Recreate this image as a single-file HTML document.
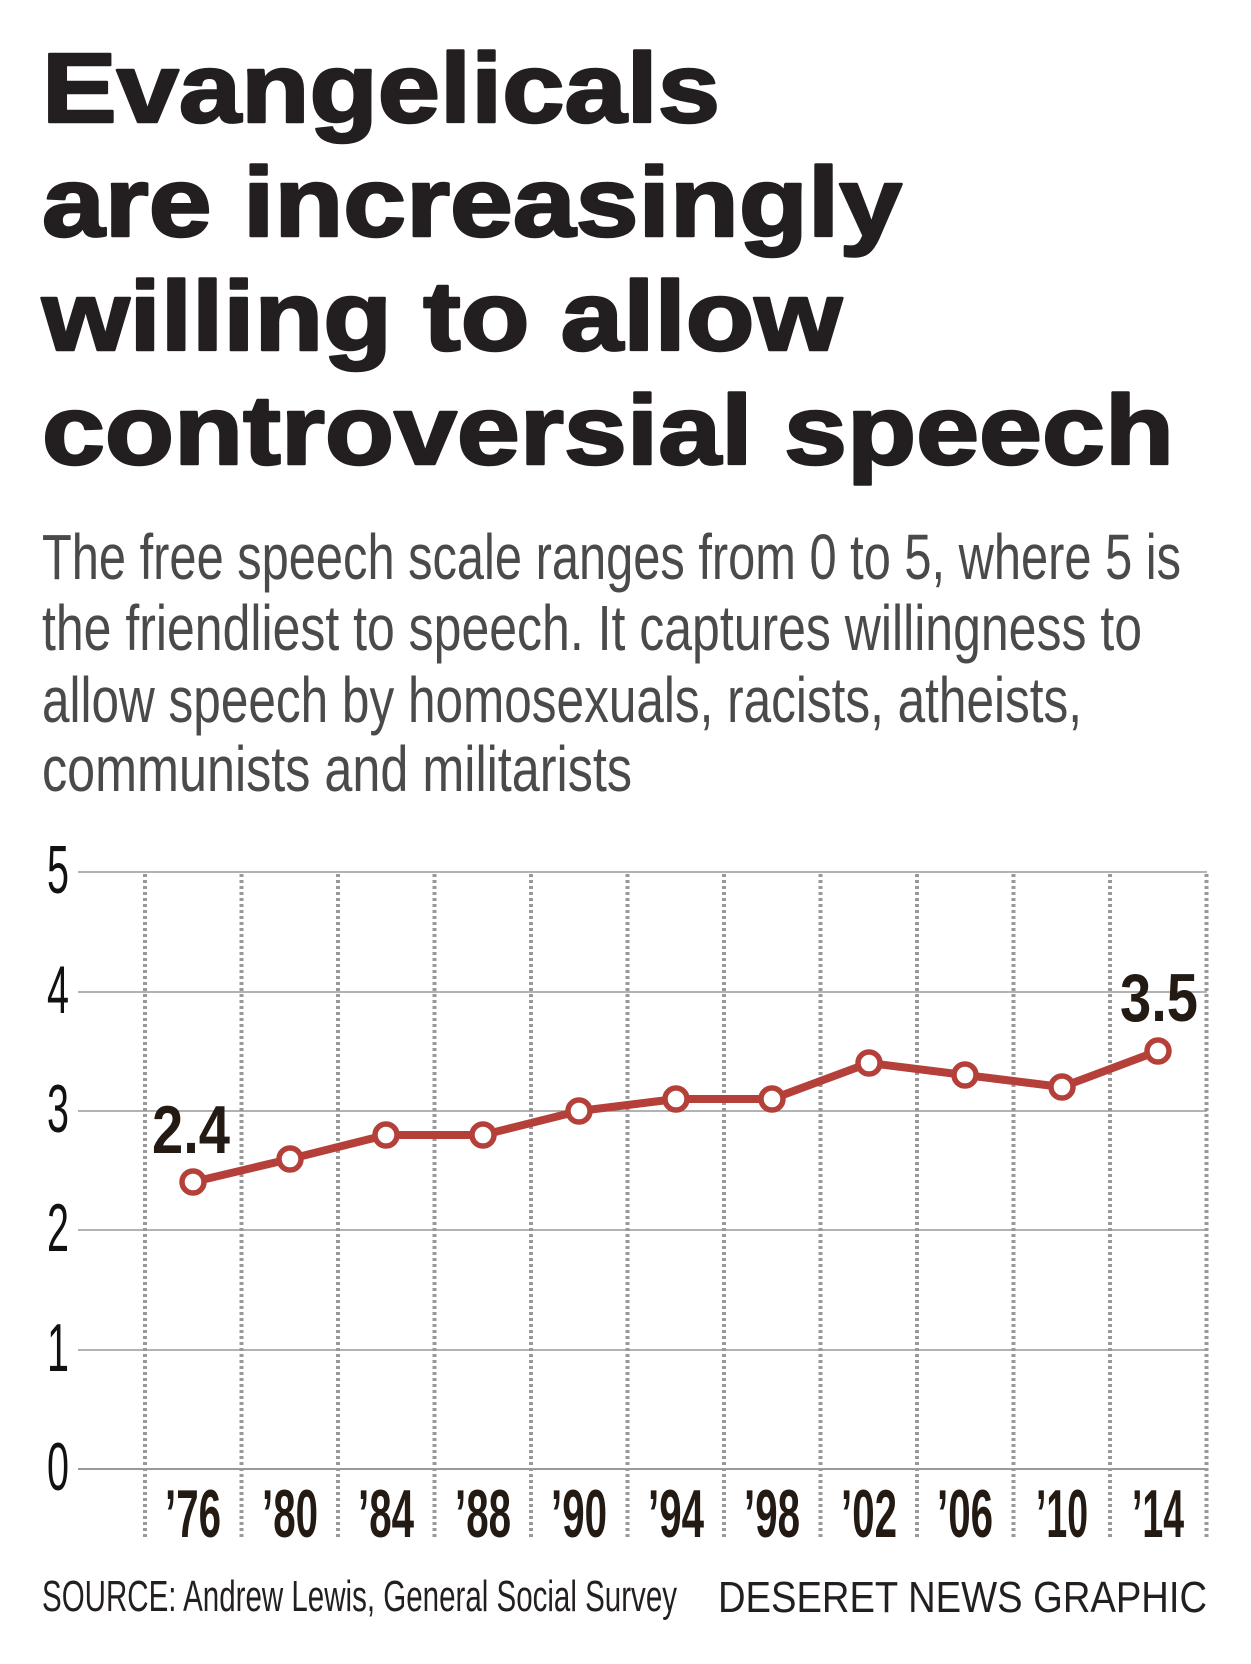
<!DOCTYPE html>
<html><head><meta charset="utf-8"><style>
html,body{margin:0;padding:0;background:#fff}
svg{display:block}
</style></head><body>
<svg width="1251" height="1664" viewBox="0 0 1251 1664" xmlns="http://www.w3.org/2000/svg">
<g font-family="Liberation Sans, sans-serif" fill="#231f20" stroke="#231f20" stroke-width="2.5" stroke-linejoin="round" font-weight="bold" font-size="98">
<text x="42" y="122" textLength="678" lengthAdjust="spacingAndGlyphs">Evangelicals</text>
<text x="42" y="236" textLength="860" lengthAdjust="spacingAndGlyphs">are increasingly</text>
<text x="42" y="350" textLength="800" lengthAdjust="spacingAndGlyphs">willing to allow</text>
<text x="42" y="464" textLength="1132" lengthAdjust="spacingAndGlyphs">controversial speech</text>
</g>
<g font-family="Liberation Sans, sans-serif" fill="#4a4a4a" font-size="64">
<text x="42" y="579" textLength="1139" lengthAdjust="spacingAndGlyphs">The free speech scale ranges from 0 to 5, where 5 is</text>
<text x="42" y="650" textLength="1100" lengthAdjust="spacingAndGlyphs">the friendliest to speech. It captures willingness to</text>
<text x="42" y="722" textLength="1040" lengthAdjust="spacingAndGlyphs">allow speech by homosexuals, racists, atheists,</text>
<text x="42" y="791" textLength="590" lengthAdjust="spacingAndGlyphs">communists and militarists</text>
</g>
<g stroke="#999" stroke-width="1.5">
<line x1="78" y1="872" x2="1207" y2="872"/>
<line x1="78" y1="992" x2="1207" y2="992"/>
<line x1="78" y1="1111" x2="1207" y2="1111"/>
<line x1="78" y1="1230" x2="1207" y2="1230"/>
<line x1="78" y1="1350" x2="1207" y2="1350"/>
<line x1="78" y1="1469" x2="1207" y2="1469" stroke-width="2"/>
</g>
<g stroke="#999" stroke-width="4" stroke-dasharray="3 3">
<line x1="145" y1="874" x2="145" y2="1538"/>
<line x1="241.5" y1="874" x2="241.5" y2="1538"/>
<line x1="338" y1="874" x2="338" y2="1538"/>
<line x1="434.5" y1="874" x2="434.5" y2="1538"/>
<line x1="531" y1="874" x2="531" y2="1538"/>
<line x1="627.5" y1="874" x2="627.5" y2="1538"/>
<line x1="724" y1="874" x2="724" y2="1538"/>
<line x1="820.5" y1="874" x2="820.5" y2="1538"/>
<line x1="917" y1="874" x2="917" y2="1538"/>
<line x1="1013.5" y1="874" x2="1013.5" y2="1538"/>
<line x1="1110" y1="874" x2="1110" y2="1538"/>
<line x1="1206.5" y1="874" x2="1206.5" y2="1538"/>
</g>
<g font-family="Liberation Sans, sans-serif" fill="#111" font-size="68" text-anchor="middle">
<text x="58" y="893" textLength="22" lengthAdjust="spacingAndGlyphs">5</text>
<text x="58" y="1013" textLength="22" lengthAdjust="spacingAndGlyphs">4</text>
<text x="58" y="1132" textLength="22" lengthAdjust="spacingAndGlyphs">3</text>
<text x="58" y="1251" textLength="22" lengthAdjust="spacingAndGlyphs">2</text>
<text x="58" y="1371" textLength="22" lengthAdjust="spacingAndGlyphs">1</text>
<text x="58" y="1490" textLength="22" lengthAdjust="spacingAndGlyphs">0</text>
</g>
<polyline fill="none" stroke="#b5403a" stroke-width="8" stroke-linejoin="round"
points="193,1182 290,1159 386,1135 483,1135 579,1111 676,1099 772,1099 869,1063 965,1075 1062,1087 1158,1051"/>
<g fill="#fff" stroke="#b5403a" stroke-width="5.5">
<circle cx="193" cy="1182" r="11"/><circle cx="290" cy="1159" r="11"/><circle cx="386" cy="1135" r="11"/>
<circle cx="483" cy="1135" r="11"/><circle cx="579" cy="1111" r="11"/><circle cx="676" cy="1099" r="11"/>
<circle cx="772" cy="1099" r="11"/><circle cx="869" cy="1063" r="11"/><circle cx="965" cy="1075" r="11"/>
<circle cx="1062" cy="1087" r="11"/><circle cx="1158" cy="1051" r="11"/>
</g>
<g font-family="Liberation Sans, sans-serif" fill="#231a14" font-weight="bold" font-size="68">
<text x="152" y="1153" textLength="78" lengthAdjust="spacingAndGlyphs">2.4</text>
<text x="1120" y="1021" textLength="78" lengthAdjust="spacingAndGlyphs">3.5</text>
</g>
<g font-family="Liberation Sans, sans-serif" fill="#231a14" font-weight="bold" font-size="68" text-anchor="middle">
<text x="193" y="1537" textLength="56" lengthAdjust="spacingAndGlyphs">’76</text>
<text x="290" y="1537" textLength="56" lengthAdjust="spacingAndGlyphs">’80</text>
<text x="386" y="1537" textLength="56" lengthAdjust="spacingAndGlyphs">’84</text>
<text x="483" y="1537" textLength="56" lengthAdjust="spacingAndGlyphs">’88</text>
<text x="579" y="1537" textLength="56" lengthAdjust="spacingAndGlyphs">’90</text>
<text x="676" y="1537" textLength="56" lengthAdjust="spacingAndGlyphs">’94</text>
<text x="772" y="1537" textLength="56" lengthAdjust="spacingAndGlyphs">’98</text>
<text x="869" y="1537" textLength="56" lengthAdjust="spacingAndGlyphs">’02</text>
<text x="965" y="1537" textLength="56" lengthAdjust="spacingAndGlyphs">’06</text>
<text x="1062" y="1537" textLength="52" lengthAdjust="spacingAndGlyphs">’10</text>
<text x="1158" y="1537" textLength="52" lengthAdjust="spacingAndGlyphs">’14</text>
</g>
<g font-family="Liberation Sans, sans-serif" fill="#231f20" font-size="44">
<text x="42" y="1611" textLength="635" lengthAdjust="spacingAndGlyphs">SOURCE: Andrew Lewis, General Social Survey</text>
<text x="718" y="1612" textLength="489" lengthAdjust="spacingAndGlyphs">DESERET NEWS GRAPHIC</text>
</g>
</svg>
</body></html>
